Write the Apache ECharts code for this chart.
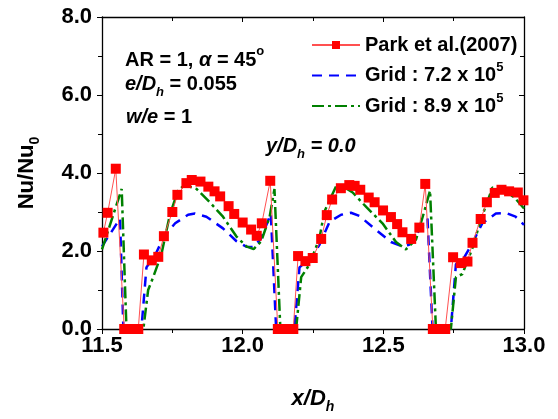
<!DOCTYPE html>
<html>
<head>
<meta charset="utf-8">
<script src="https://cdn.jsdelivr.net/npm/echarts@6/dist/echarts.min.js"></script>
<style>
  html, body { margin: 0; padding: 0; background: #fff; }
  #chart { width: 558px; height: 419px; }
</style>
</head>
<body>
<div id="chart"></div>
<script>
// x ticks
const xTicks = [11.5, 12.0, 12.5, 13.0];
const yTicks = [0, 2, 4, 6, 8];

// Park et al.(2007) experiment
const parkX = [11.505, 11.52, 11.549, 11.579, 11.602, 11.629, 11.649, 11.677, 11.70, 11.72, 11.75, 11.768, 11.80, 11.819, 11.85, 11.878, 11.90, 11.92, 11.95, 11.97, 12.0, 12.03, 12.05, 12.068, 12.098, 12.125, 12.153, 12.18, 12.197, 12.223, 12.249, 12.279, 12.299, 12.318, 12.349, 12.379, 12.398, 12.418, 12.448, 12.469, 12.499, 12.527, 12.549, 12.568, 12.599, 12.628, 12.649, 12.676, 12.702, 12.72, 12.748, 12.775, 12.799, 12.817, 12.846, 12.868, 12.896, 12.92, 12.947, 12.978, 12.998];
const parkY = [2.47, 2.98, 4.11, 0, 0, 0, 1.91, 1.76, 1.85, 2.38, 3.00, 3.44, 3.74, 3.82, 3.78, 3.65, 3.53, 3.40, 3.15, 2.95, 2.73, 2.55, 2.39, 2.71, 3.80, 0, 0, 0, 1.87, 1.74, 1.82, 2.31, 2.92, 3.32, 3.61, 3.69, 3.67, 3.57, 3.37, 3.25, 3.04, 2.87, 2.69, 2.48, 2.31, 2.60, 3.72, 0, 0, 0, 1.84, 1.69, 1.73, 2.21, 2.82, 3.25, 3.49, 3.57, 3.53, 3.50, 3.30];

// Grid : 7.2 x 10^5
const g72X = [11.5, 11.564, 11.576, 11.64, 11.658, 11.69, 11.72, 11.76, 11.806, 11.83, 11.871, 11.93, 11.978, 12.013, 12.039, 12.066, 12.10, 12.119, 12.184, 12.202, 12.244, 12.273, 12.309, 12.35, 12.385, 12.415, 12.474, 12.527, 12.568, 12.592, 12.628, 12.657, 12.675, 12.74, 12.758, 12.787, 12.817, 12.852, 12.90, 12.935, 12.97, 13.0];
const g72Y = [2.12, 2.83, 0, 0, 1.58, 1.91, 2.37, 2.71, 2.93, 2.96, 2.88, 2.58, 2.25, 2.11, 2.10, 2.33, 2.96, 0, 0, 1.58, 1.83, 2.16, 2.75, 2.93, 2.98, 2.90, 2.54, 2.23, 2.12, 2.16, 2.54, 2.83, 0, 0, 1.66, 1.83, 2.21, 2.71, 2.96, 2.98, 2.88, 2.67];

// Grid : 8.9 x 10^5
const g89X = [11.5, 11.57, 11.587, 11.647, 11.664, 11.682, 11.711, 11.741, 11.77, 11.794, 11.836, 11.883, 11.93, 11.978, 12.013, 12.039, 12.066, 12.096, 12.113, 12.134, 12.19, 12.208, 12.238, 12.273, 12.29, 12.332, 12.356, 12.391, 12.439, 12.497, 12.545, 12.58, 12.616, 12.645, 12.666, 12.687, 12.74, 12.758, 12.781, 12.817, 12.846, 12.888, 12.923, 12.965, 13.0];
const g89Y = [2.04, 3.59, 0, 0, 1.0, 1.33, 1.91, 2.92, 3.55, 3.69, 3.59, 3.25, 2.88, 2.37, 2.12, 2.05, 2.25, 2.88, 3.59, 0, 0, 1.33, 1.66, 2.33, 3.0, 3.66, 3.66, 3.50, 3.13, 2.71, 2.23, 2.04, 2.29, 3.0, 3.55, 0, 0, 1.33, 1.41, 2.08, 2.79, 3.63, 3.56, 3.38, 3.09];

const zip = (xs, ys) => xs.map((x, i) => [x, ys[i]]);

const FONT = 'Liberation Sans, Arial, sans-serif';
const chart = echarts.init(document.getElementById('chart'));

//共用坐标轴样式
const axisBase = {
  type: 'value',
  axisLine: { show: true, onZero: false, lineStyle: { color: '#000', width: 1.3 } },
  splitLine: { show: false },
  minorTick: { show: true, splitNumber: 2, length: 4, lineStyle: { color: '#000' } },
  axisTick: { length: 5, lineStyle: { color: '#000' } }
};

chart.setOption({
  animation: false,
  grid: { left: 102, right: 34, top: 17, bottom: 83 },
  xAxis: [
    Object.assign({}, axisBase, {
      min: xTicks[0], max: xTicks[xTicks.length - 1], interval: 0.5,
      axisLabel: {
        color: '#000', fontFamily: FONT, fontWeight: 'bold', fontSize: 22, margin: 6,
        formatter: v => v.toFixed(1)
      },
      name: 'x/D{sub|h}', nameLocation: 'middle', nameGap: 55,
      nameTextStyle: {
        color: '#000', fontFamily: FONT, fontWeight: 'bold', fontStyle: 'italic', fontSize: 22,
        rich: { sub: { fontSize: 14, fontWeight: 'bold', fontStyle: 'italic', padding: [16, 0, 0, 0] } }
      }
    }),
    Object.assign({}, axisBase, {
      position: 'top', min: 11.5, max: 13.0, interval: 0.5,
      axisTick: { inside: true, length: 5, lineStyle: { color: '#000' } },
      minorTick: { show: true, splitNumber: 2, length: 4, lineStyle: { color: '#000' } },
      axisLabel: { show: false }
    })
  ],
  yAxis: [
    Object.assign({}, axisBase, {
      min: yTicks[0], max: yTicks[yTicks.length - 1], interval: 2,
      axisLabel: {
        color: '#000', fontFamily: FONT, fontWeight: 'bold', fontSize: 22, margin: 10,
        formatter: v => v.toFixed(1)
      },
      name: 'Nu/Nu{sub|0}', nameLocation: 'middle', nameGap: 60, nameRotate: 90,
      nameTextStyle: {
        color: '#000', fontFamily: FONT, fontWeight: 'bold', fontSize: 22,
        rich: { sub: { fontSize: 14, fontWeight: 'bold', padding: [16, 0, 0, 0] } }
      }
    }),
    Object.assign({}, axisBase, {
      position: 'right', min: 0, max: 8, interval: 2,
      axisTick: { inside: true, length: 5, lineStyle: { color: '#000' } },
      minorTick: { show: true, splitNumber: 2, length: 4, lineStyle: { color: '#000' } },
      axisLabel: { show: false }
    })
  ],
  legend: {
    orient: 'vertical', left: 306, top: 30, itemWidth: 48, itemHeight: 10, itemGap: 6,
    textStyle: {
      color: '#000', fontFamily: FONT, fontWeight: 'bold', fontSize: 20,
      rich: { sup: { fontSize: 13, fontWeight: 'bold', padding: [0, 0, 16, 0] } }
    },
    formatter: name => name.replace(/\^(\d+)/, '{sup|$1}'),
    data: [
      { name: 'Park et al.(2007)' },
      { name: 'Grid : 7.2 x 10^5', itemStyle: { opacity: 0 } },
      { name: 'Grid : 8.9 x 10^5', itemStyle: { opacity: 0 } }
    ]
  },
  graphic: [
    {
      type: 'text', left: 125, top: 45,
      style: {
        text: 'AR = 1, {it|α} = 45{sup|o}', fill: '#000',
        font: 'bold 20px ' + FONT,
        rich: {
          it: { fontStyle: 'italic', fontWeight: 'bold', fontSize: 20, fontFamily: FONT },
          sup: { fontSize: 13, fontWeight: 'bold', fontFamily: FONT, padding: [0, 0, 18, 0] }
        }
      }
    },
    {
      type: 'text', left: 125, top: 74,
      style: {
        text: '{it|e/D}{sub|h} = 0.055', fill: '#000',
        font: 'bold 20px ' + FONT,
        rich: {
          it: { fontStyle: 'italic', fontWeight: 'bold', fontSize: 20, fontFamily: FONT },
          sub: { fontStyle: 'italic', fontSize: 13, fontWeight: 'bold', fontFamily: FONT, padding: [16, 0, 0, 0] }
        }
      }
    },
    {
      type: 'text', left: 126, top: 107,
      style: {
        text: '{it|w/e} = 1', fill: '#000',
        font: 'bold 20px ' + FONT,
        rich: { it: { fontStyle: 'italic', fontWeight: 'bold', fontSize: 20, fontFamily: FONT } }
      }
    },
    {
      type: 'text', left: 266, top: 136,
      style: {
        text: 'y/D{sub|h} = 0.0', fill: '#000',
        font: 'italic bold 20px ' + FONT,
        rich: {
          sub: { fontStyle: 'italic', fontSize: 13, fontWeight: 'bold', fontFamily: FONT, padding: [16, 0, 0, 0] }
        }
      }
    }
  ],
  series: [
    {
      name: 'Park et al.(2007)', type: 'line', data: zip(parkX, parkY),
      symbol: 'rect', symbolSize: 10, z: 3,
      itemStyle: { color: '#ff0000' },
      lineStyle: { color: '#ff5050', width: 1 }
    },
    {
      name: 'Grid : 7.2 x 10^5', type: 'line', data: zip(g72X, g72Y),
      symbol: 'none', z: 2,
      itemStyle: { color: '#0000ff' },
      lineStyle: { color: '#0000ff', width: 2.5, type: [10, 7] }
    },
    {
      name: 'Grid : 8.9 x 10^5', type: 'line', data: zip(g89X, g89Y),
      symbol: 'none', z: 2,
      itemStyle: { color: '#008000' },
      lineStyle: { color: '#008000', width: 2.5, type: [12, 4, 3, 4] }
    }
  ]
});
</script>
</body>
</html>
